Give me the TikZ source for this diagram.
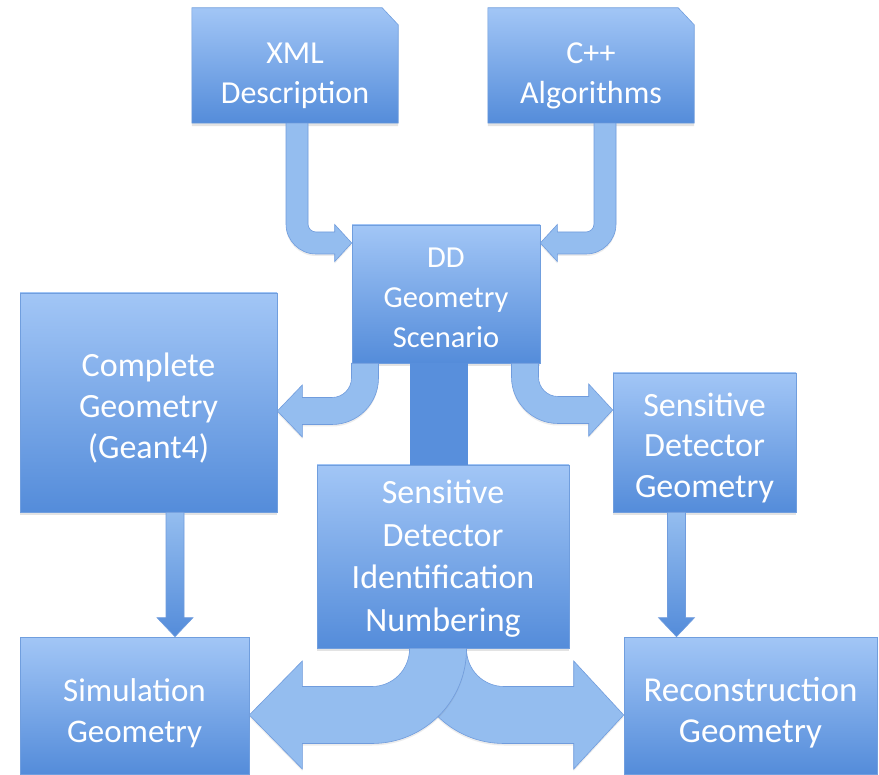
\documentclass[tikz,border=0pt]{standalone}
\usepackage{fontspec}
\setmainfont{Carlito}
\usetikzlibrary{calc,shadows}
\pgfdeclarelayer{bg}
\pgfsetlayers{bg,main}

\definecolor{boxtop}{RGB}{162,198,246}
\definecolor{boxbot}{RGB}{84,140,218}
\definecolor{boxedge}{RGB}{112,158,222}
\definecolor{arrowfill}{RGB}{148,189,239}
\definecolor{arrowedge}{RGB}{112,156,221}
\definecolor{shaftdark}{RGB}{88,143,220}

% Centred lines of box text, lowered by the optional amount
\newcommand\boxlines[2][0pt]{%
  \raisebox{-#1}[\height][\depth]{\begin{tabular}{@{}c@{}}#2\end{tabular}}}

% Block arrow that leaves a box downwards and turns sideways into another box.
% #2 start (centre of shaft), #3 tip, #4 half shaft width, #5 bend radius
% (centre line), #6 half head width, #7 head length
\newcommand\bentarrow[7][]{%
  \path[bentshape,#1] let \p1=(#2), \p2=(#3), \n1={sign(\x2-\x1)} in
    ({\x1+(\n1)*#4pt},\y1)
    -- ({\x1+(\n1)*#4pt},{\y2+#5pt})
    arc[start angle={90+90*(\n1)}, end angle={90+180*(\n1)}, radius={(#5-#4)*1pt}]
    -- ({\x2-(\n1)*#7pt},{\y2+#4pt})
    -- ({\x2-(\n1)*#7pt},{\y2+#6pt})
    -- (\x2,\y2)
    -- ({\x2-(\n1)*#7pt},{\y2-#6pt})
    -- ({\x2-(\n1)*#7pt},{\y2-#4pt})
    -- ({\x1+(\n1)*#5pt},{\y2-#4pt})
    arc[start angle={90+180*(\n1)}, end angle={90+90*(\n1)}, radius={(#5+#4)*1pt}]
    -- ({\x1-(\n1)*#4pt},\y1)
    -- cycle;
}
% Straight downward block arrow: #2 start, #3 tip, #4 half shaft,
% #5 half head, #6 head length
\newcommand\vblockarrow[6][]{%
  \path[straightshape,#1] let \p1=(#2), \p2=(#3) in
    ({\x1-#4pt},\y1) -- ({\x1-#4pt},{\y2+#6pt}) -- ({\x1-#5pt},{\y2+#6pt})
    -- (\x1,\y2) -- ({\x1+#5pt},{\y2+#6pt}) -- ({\x1+#4pt},{\y2+#6pt})
    -- ({\x1+#4pt},\y1) -- cycle;
}

\begin{document}
\begin{tikzpicture}[x=1pt,y=-1pt,
  boxfont/.style={text=white, inner sep=0pt},
  fs/.style 2 args={font=\fontsize{#1pt}{#2pt}\selectfont},
  boxfill/.style={draw=boxedge, line width=0.6pt, top color=boxtop, bottom color=boxbot,
    drop shadow={shadow xshift=0pt, shadow yshift=-3pt, opacity=0.22}},
  box/.style={rectangle, boxfill, boxfont},
  bentshape/.style={fill=arrowfill, draw=arrowedge, line width=0.6pt,
    drop shadow={shadow xshift=0pt, shadow yshift=-2pt, opacity=0.15}},
  straightshape/.style={top color=arrowfill, bottom color=boxbot, draw=arrowedge, line width=0.6pt}]

\useasboundingbox (0,0) rectangle (879,775);

% source documents (snipped top-right corner drawn on the background layer)
\node[boxfont, fs={32}{40}, minimum width=206pt, minimum height=115pt] (xml) at (295,65.5)
  {\boxlines[10pt]{XML\\Description}};
\node[boxfont, fs={32}{40}, minimum width=206pt, minimum height=115pt] (cpp) at (591,65.5)
  {\boxlines[10pt]{C++\\Algorithms}};
\begin{pgfonlayer}{bg}
  \fill[white] (0,0) rectangle (879,775);
  \foreach \b in {xml,cpp}
    \path[boxfill] (\b.south west) -- (\b.north west) -- ([xshift=-16pt]\b.north east)
      -- ([yshift=-17pt]\b.north east) -- (\b.south east) -- cycle;
\end{pgfonlayer}

% geometry boxes
\node[box, fs={30.5}{40}, minimum width=188pt, minimum height=138pt] (dd) at (446,294)
  {\boxlines[6pt]{DD\\Geometry\\Scenario}};
\node[box, fs={34}{41}, minimum width=257pt, minimum height=219pt] (cg) at (148.5,402.5)
  {\boxlines[7pt]{Complete\\Geometry\\(Geant4)}};
\node[box, fs={34}{40.5}, minimum width=183pt, minimum height=139pt] (sdg) at (704.5,442.5)
  {\boxlines[6pt]{Sensitive\\Detector\\Geometry}};
\node[box, fs={34}{42.5}, minimum width=252pt, minimum height=183pt] (sid) at (443,556.5)
  {\boxlines[2.5pt]{Sensitive\\Detector\\Identification\\Numbering}};
\node[box, fs={33}{41}, minimum width=229pt, minimum height=137pt] (sim) at (134.5,705.5)
  {\boxlines[8pt]{Simulation\\Geometry}};
\node[box, fs={35}{41}, minimum width=253pt, minimum height=137pt] (rec) at (750.5,705.5)
  {\boxlines[8pt]{Reconstruction\\Geometry}};

% inputs into the scenario
\bentarrow{xml.south -| 297,0}{dd.west |- 0,243}{11}{19}{18.5}{17}
\bentarrow{cpp.south -| 605,0}{dd.east |- 0,243}{11}{19}{18.5}{17}

% scenario outputs
\bentarrow{dd.south -| 365,0}{cg.east |- 0,411}{13.5}{33}{26}{25}
\bentarrow{dd.south -| 525,0}{sdg.west |- 0,410}{13.5}{33}{26}{24}
\fill[shaftdark] (dd.south -| 410,0) rectangle (sid.north -| 468,0);

% geometry to the simulation and reconstruction boxes
\vblockarrow{cg.south -| 175,0}{sim.north -| 175,0}{9}{18}{19}
\vblockarrow{sdg.south -| 676.5,0}{rec.north -| 676.5,0}{9}{18}{19}

% identification numbering used by both
\bentarrow{sid.south -| 438,0}{rec.west |- 0,715}{28.5}{66}{54}{50}
\bentarrow{sid.south -| 438,0}{sim.east |- 0,715}{28.5}{66}{54}{53}
\end{tikzpicture}
\end{document}
